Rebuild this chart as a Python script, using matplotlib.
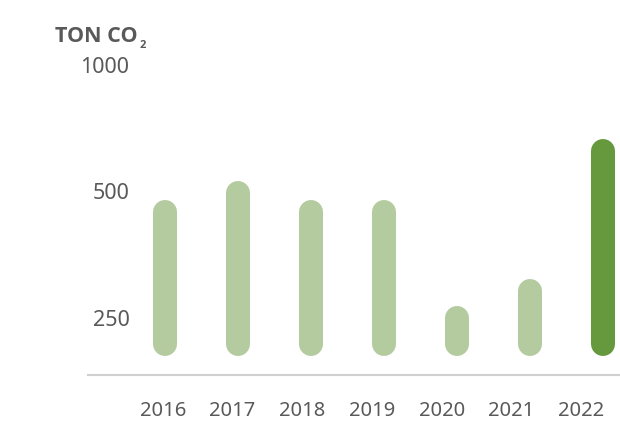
import numpy as np
import matplotlib.pyplot as plt
from matplotlib import font_manager
from matplotlib.transforms import blended_transform_factory

## CO2 emissions per year (ton)
years = ['2016', '2017', '2018', '2019', '2020', '2021', '2022']
values = [452, 502, 452, 452, 253, 293, 631]
base = 220
yticks = [250, 500, 1000]

plt.rcParams['font.family'] = ['Noto Sans', 'DejaVu Sans']

# pick a family that really has a bold face for the unit label
bold_font = 'DejaVu Sans'
for name in ['Noto Sans', 'Open Sans', 'Lato', 'Roboto', 'Liberation Sans']:
    for f in font_manager.fontManager.ttflist:
        if f.name == name and f.weight in ('bold', 700, 'semibold', 600) and f.style == 'normal':
            bold_font = name
            break
    if bold_font != 'DejaVu Sans':
        break

light = '#b3cb9f'
dark = '#66983d'
grey = '#595959'

fig = plt.figure(figsize=(6.2, 4.22), dpi=100)
# axes: x from 88px to 620px, y from 375px (bottom) up to 40px
ax = fig.add_axes([88 / 620, (422 - 375) / 422, 532 / 620, (375 - 40) / 422])
ax.set_yscale('log', base=2)
ax.set_ylim(185.3, 1159.5)
ax.set_xlim(-1.055, 6.233)

x = np.arange(len(years))
for i, v in enumerate(values):
    c = dark if i == len(values) - 1 else light
    ax.plot([x[i], x[i]], [base, v], color=c, lw=17.3,
            solid_capstyle='round', zorder=3)

for s in ['top', 'right', 'left']:
    ax.spines[s].set_visible(False)
ax.spines['bottom'].set_color('#d0d0d0')
ax.spines['bottom'].set_linewidth(1.5)

ax.set_xticks([])
ax.set_yticks([])
ax.minorticks_off()

# year labels sit a little left of the bars and drift further left
tr = blended_transform_factory(ax.transData, ax.transAxes)
for i, y in enumerate(years):
    ax.text(-0.03 + i * 0.955, -0.108, y, transform=tr, ha='center', va='center',
            fontsize=14.5, color=grey)

tr2 = blended_transform_factory(ax.transAxes, ax.transData)
for t in yticks:
    ax.text(0.078, t, str(t), transform=tr2, ha='right', va='center',
            fontsize=15.5, color=grey)

fig.text(55 / 620, 1 - 37 / 422, 'TON CO', ha='left', va='center',
         fontsize=15.5, fontweight='bold', color=grey, family=bold_font)
fig.text(139.5 / 620, 1 - 45 / 422, '2', ha='left', va='center',
         fontsize=8, fontweight='bold', color=grey, family=bold_font)

fig.savefig('out.png', dpi=100)
